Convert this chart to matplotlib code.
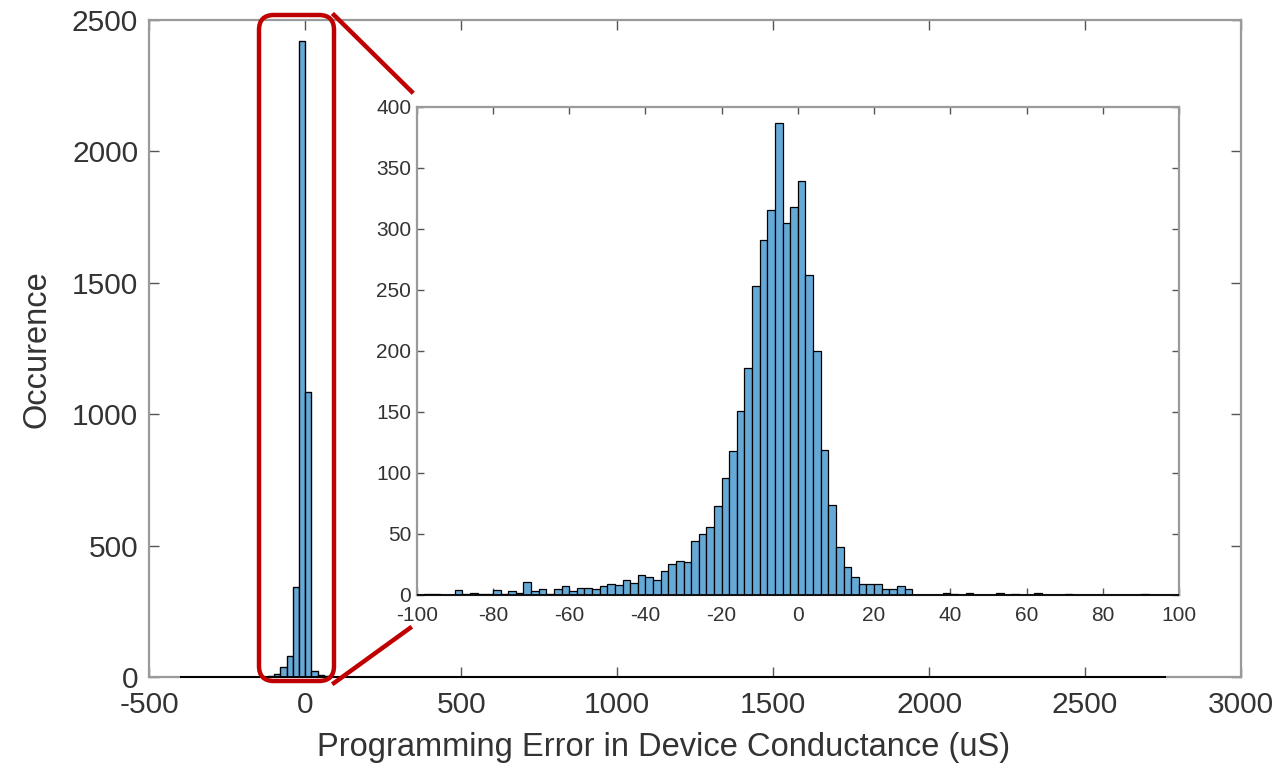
import matplotlib
matplotlib.use('Agg')
import matplotlib.pyplot as plt
from matplotlib.patches import FancyBboxPatch
from matplotlib.lines import Line2D

plt.rcParams['font.family'] = ['Liberation Sans', 'DejaVu Sans']
plt.rcParams['axes.unicode_minus'] = False

# main histogram, 20 uS bins starting at -400
main_first_edge = -400
main_bin_width = 20
main_counts = [
    1, 2, 1, 1, 2, 1, 2, 1, 1, 2,          # -400 .. -220
    1, 2, 3, 3, 6, 14, 40, 82, 345, 2420,  # -200 .. -20
    1087, 25, 10, 4, 2, 2, 1, 0, 0, 0,     # 0 .. 180
    0, 0, 0, 2, 2, 1, 0, 0, 0, 0,          # 200 .. 380
    0, 0, 0, 0, 0, 0, 0, 0, 0, 0,          # 400 .. 580
    2, 1, 0, 0, 0, 2, 1, 0, 0, 2,          # 600 .. 780
    1, 0, 0, 0, 2, 0, 0, 0, 0, 0,          # 800 .. 980
    0, 0, 0, 0, 0, 0, 0, 0, 0, 1,          # 1000 .. 1180
    0, 0, 0, 0, 0, 0, 0, 0, 0, 1,          # 1200 .. 1380
    0, 0, 0, 0, 0, 0, 0, 0, 0, 1,          # 1400 .. 1580
    0, 0, 0, 0, 0, 0, 0, 0, 0, 0,          # 1600 .. 1780
    0, 0, 0, 0, 0, 0, 0, 1, 0, 0,          # 1800 .. 1980
    0, 0, 0, 1, 0, 0, 0, 0, 0, 0,          # 2000 .. 2180
    0, 0, 1, 0, 0, 0, 0, 0, 0, 0,          # 2200 .. 2380
    0, 0, 0, 0, 0, 0, 0, 0, 0, 0,          # 2400 .. 2580
    0, 0, 0, 0, 0, 0, 0, 1,                # 2600 .. 2740
]

# zoomed histogram, 2 uS bins from -100 to 100
inset_first_edge = -100
inset_bin_width = 2
inset_counts = [
    0, 1, 1, 0, 0, 4, 1, 2, 1, 1,
    4, 1, 3, 2, 11, 3, 5, 1, 5, 7,
    3, 6, 6, 5, 7, 9, 8, 12, 10, 16,
    15, 12, 20, 25, 28, 27, 44, 50, 56, 73,
    96, 118, 151, 186, 253, 291, 315, 387, 305, 318,
    339, 262, 200, 119, 74, 39, 23, 15, 9, 9,
    9, 5, 5, 7, 5, 0, 0, 0, 0, 2,
    1, 0, 2, 0, 0, 0, 2, 0, 1, 0,
    0, 2, 0, 0, 0, 1, 0, 0, 0, 0,
    0, 0, 0, 0, 0, 1, 0, 0, 0, 0,
]

main_xticks = [-500, 0, 500, 1000, 1500, 2000, 2500, 3000]
main_yticks = [0, 500, 1000, 1500, 2000, 2500]
inset_xticks = [-100, -80, -60, -40, -20, 0, 20, 40, 60, 80, 100]
inset_yticks = [0, 50, 100, 150, 200, 250, 300, 350, 400]

bar_color = '#65A9D7'
spine_color = '#9a9a9a'
text_color = '#333333'
red = '#C00000'

W, H = 1278, 771
fig = plt.figure(figsize=(W / 100, H / 100), dpi=100)


def style_axes(ax, fs, tick_len, pad_x, pad_y):
    for s in ax.spines.values():
        s.set_color(spine_color)
        s.set_linewidth(1.6)
    ax.tick_params(direction='in', top=True, right=True, length=tick_len,
                   width=1.0, color='#555555', labelcolor=text_color,
                   labelsize=fs)
    ax.tick_params(axis='x', pad=pad_x)
    ax.tick_params(axis='y', pad=pad_y)


def draw_hist(ax, first_edge, width, counts, lw):
    edges = [first_edge + i * width for i in range(len(counts))]
    ax.bar(edges, counts, width=width, align='edge',
           color=bar_color, edgecolor='black', linewidth=lw, zorder=3)
    # empty bins still show their black outline along the baseline
    ax.hlines(0, edges[0], edges[-1] + width, color='black',
              linewidth=lw * 1.4, zorder=4, clip_on=False)


# main axes
ax = fig.add_axes([149.3 / W, 1 - 677.3 / H, (1241 - 149.3) / W, (677.3 - 20) / H])
draw_hist(ax, main_first_edge, main_bin_width, main_counts, 1.0)
ax.set_xlim(-500, 3000)
ax.set_ylim(0, 2500)
ax.set_xticks(main_xticks)
ax.set_yticks(main_yticks)
style_axes(ax, 21.5, 7, 10, 8)
ax.set_xlabel('Programming Error in Device Conductance (uS)', fontsize=23.5, color=text_color)
ax.set_ylabel('Occurence', fontsize=23.5, color=text_color)
ax.xaxis.set_label_coords(0.471, -0.083)
ax.yaxis.set_label_coords(-0.089, 0.5)

# inset axes
axi = fig.add_axes([416.7 / W, 1 - 595 / H, (1179 - 416.7) / W, (595 - 106.7) / H])
draw_hist(axi, inset_first_edge, inset_bin_width, inset_counts, 0.9)
axi.set_xlim(-100, 100)
axi.set_ylim(0, 400)
axi.set_xticks(inset_xticks)
axi.set_yticks(inset_yticks)
style_axes(axi, 15, 5, 8, 4)


# red highlight box and connector lines (pixel positions converted to inches)
def px(x, y):
    return x / 100, (H - y) / 100


x0, y0 = px(259, 681)
x1, y1 = px(334, 15)
box = FancyBboxPatch((x0, y0), x1 - x0, y1 - y0,
                     boxstyle='round,pad=0,rounding_size=0.15',
                     transform=fig.dpi_scale_trans, fill=False,
                     edgecolor=red, linewidth=3.2, zorder=10)
fig.add_artist(box)

a, b = px(334, 15)
c, d = px(411.7, 91.7)
fig.add_artist(Line2D([a, c], [b, d], transform=fig.dpi_scale_trans,
                      color=red, linewidth=3.2, zorder=10))
a, b = px(334, 683)
c, d = px(410, 628)
fig.add_artist(Line2D([a, c], [b, d], transform=fig.dpi_scale_trans,
                      color=red, linewidth=3.2, zorder=10))

fig.savefig('out.png', dpi=100)
